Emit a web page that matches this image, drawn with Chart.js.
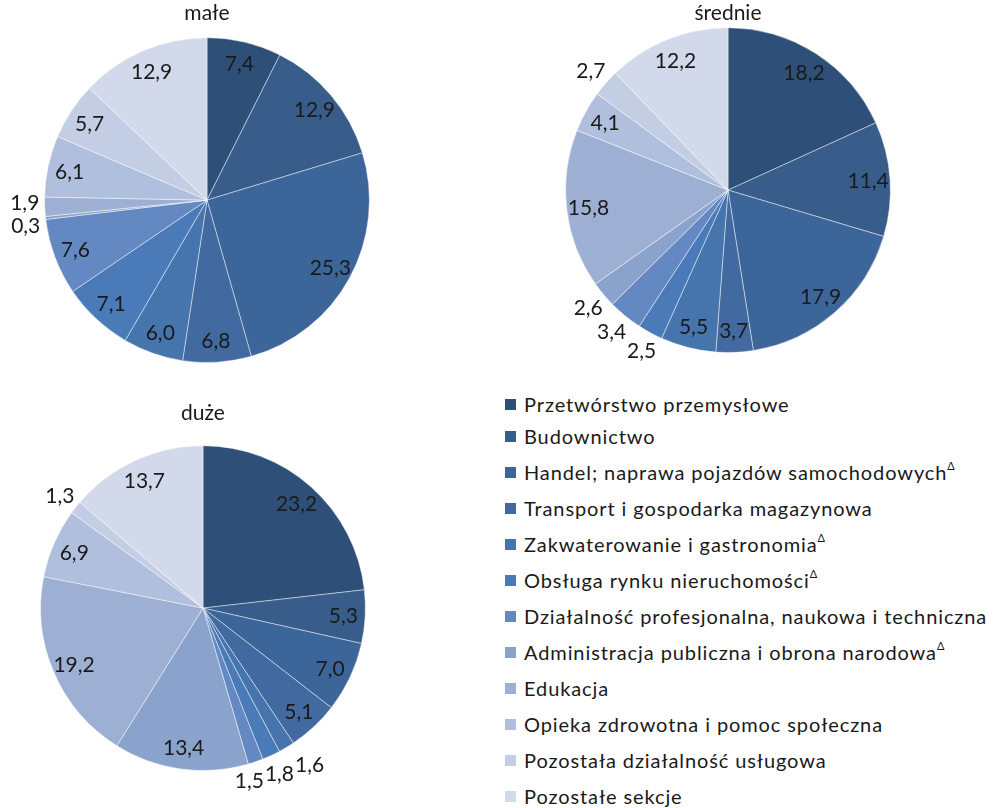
<!DOCTYPE html>
<html><head><meta charset="utf-8">
<script src="https://cdn.jsdelivr.net/npm/chart.js@4"></script>
<style>
body{margin:0;background:#fff;width:1001px;height:808px;position:relative;overflow:hidden;font-family:Lato, sans-serif;}
.box{position:absolute;}
#legend{position:absolute;left:505px;top:390px;}
.row{display:flex;align-items:center;height:36px;font-size:20px;letter-spacing:0.9px;color:#1a1a1a;white-space:nowrap;}
.row:first-child{height:28px;}
.sw{width:11px;height:11px;margin-right:8px;flex:none;}
.row sup{font-size:11px;position:relative;top:-2px;letter-spacing:0;}
</style></head>
<body>
<div class="box" id="b1" style="left:0;top:0;width:414px;height:380px"><canvas id="c1"></canvas></div>
<div class="box" id="b2" style="left:521px;top:0;width:414px;height:370px"><canvas id="c2"></canvas></div>
<div class="box" id="b3" style="left:0;top:400px;width:420px;height:401px"><canvas id="c3"></canvas></div>
<div id="legend"></div>
<script>
const categories = [
  'Przetwórstwo przemysłowe',
  'Budownictwo',
  'Handel; naprawa pojazdów samochodowychΔ',
  'Transport i gospodarka magazynowa',
  'Zakwaterowanie i gastronomiaΔ',
  'Obsługa rynku nieruchomościΔ',
  'Działalność profesjonalna, naukowa i techniczna',
  'Administracja publiczna i obrona narodowaΔ',
  'Edukacja',
  'Opieka zdrowotna i pomoc społeczna',
  'Pozostała działalność usługowa',
  'Pozostałe sekcje'
];
const colors = ['#2E4F77','#385D8A','#3C659A','#426AA0','#4674AD','#4A7BB8','#6388C2','#8AA3CC','#9DB0D4','#AFBFDD','#C3CDE4','#D2D9EA'];
const maleValues    = [7.4, 12.9, 25.3, 6.8, 6.0, 7.1, 7.6, 0.3, 1.9, 6.1, 5.7, 12.9];
const srednieValues = [18.2, 11.4, 17.9, 3.7, 5.5, 2.5, 3.4, 2.6, 15.8, 4.1, 2.7, 12.2];
const duzeValues    = [23.2, 5.3, 7.0, 5.1, 1.6, 1.8, 1.5, 13.4, 19.2, 6.9, 1.3, 13.7];
const titles = ['małe', 'średnie', 'duże'];

Chart.defaults.font.family = 'Lato, sans-serif';
const textColor = '#1a1a1a';

function resolve(items){
  for(let it=0; it<60; it++){
    let moved=false;
    for(let i=0;i<items.length;i++){
      for(let j=i+1;j<items.length;j++){
        const a=items[i], b=items[j];
        const dx=b.x-a.x, dy=b.y-a.y;
        const ox=(a.w+b.w)/2-Math.abs(dx);
        const oy=(a.h+b.h)/2-Math.abs(dy);
        if(ox>0.1 && oy>0.1){
          moved=true;
          if(ox < oy*1.5){
            const s=(dx>=0?1:-1)*ox/2;
            a.x-=s; b.x+=s;
          } else {
            const s=(dy>=0?1:-1)*oy/2;
            a.y-=s; b.y+=s;
          }
        }
      }
    }
    if(!moved) break;
  }
}

const labelPlugin = {
  id:'sliceLabels',
  afterDatasetsDraw(chart){
    const ctx=chart.ctx;
    const meta=chart.getDatasetMeta(0);
    const ds=chart.data.datasets[0];
    ctx.save();
    ctx.font='21px Lato, sans-serif';
    ctx.fillStyle=textColor;
    ctx.textAlign='center';
    ctx.textBaseline='middle';
    const items=[];
    meta.data.forEach((arc,i)=>{
      const v=ds.data[i];
      const p=arc.getProps(['x','y','startAngle','endAngle','outerRadius'],true);
      const mid=(p.startAngle+p.endAngle)/2;
      const outside=v<3.5;
      const R=outside ? p.outerRadius+20 : p.outerRadius*0.865;
      const text=v.toFixed(1).replace('.',',');
      items.push({x:p.x+Math.cos(mid)*R, y:p.y+Math.sin(mid)*R, text, w:ctx.measureText(text).width+1, h:23, outside});
    });
    resolve(items.filter(o=>o.outside));
    items.forEach(o=>ctx.fillText(o.text,o.x,o.y+1));
    ctx.restore();
  }
};

function makePie(id, title, values, pad, titlePad){
  return new Chart(document.getElementById(id), {
    type:'pie',
    data:{
      labels:categories,
      datasets:[{data:values, backgroundColor:colors, borderColor:'rgba(255,255,255,0.45)', borderWidth:1}]
    },
    options:{
      responsive:true,
      maintainAspectRatio:false,
      animation:false,
      layout:{padding:pad},
      plugins:{
        legend:{display:false},
        tooltip:{enabled:false},
        title:{display:true, text:title, color:textColor, font:{size:21, weight:'normal', lineHeight:1.2}, padding:titlePad}
      }
    },
    plugins:[labelPlugin]
  });
}

makePie('c1', titles[0], maleValues, {left:44, right:44, top:0, bottom:17}, {top:1, bottom:11});
makePie('c2', titles[1], srednieValues, {left:44, right:44, top:0, bottom:17}, {top:1, bottom:1});
const c3 = makePie('c3', titles[2], duzeValues, {left:40, right:54, top:0, bottom:30}, {top:1, bottom:19});

// HTML legend built from the library's own legend items
const legendEl=document.getElementById('legend');
const items=c3.options.plugins.legend.labels.generateLabels(c3);
items.forEach(it=>{
  const row=document.createElement('div');
  row.className='row';
  const sw=document.createElement('span');
  sw.className='sw';
  sw.style.background=it.fillStyle;
  row.appendChild(sw);
  const t=document.createElement('span');
  let txt=it.text;
  if(txt.endsWith('Δ')){
    t.textContent=txt.slice(0,-1);
    const s=document.createElement('sup'); s.textContent='Δ'; t.appendChild(s);
  } else t.textContent=txt;
  row.appendChild(t);
  legendEl.appendChild(row);
});
</script>
</body></html>
